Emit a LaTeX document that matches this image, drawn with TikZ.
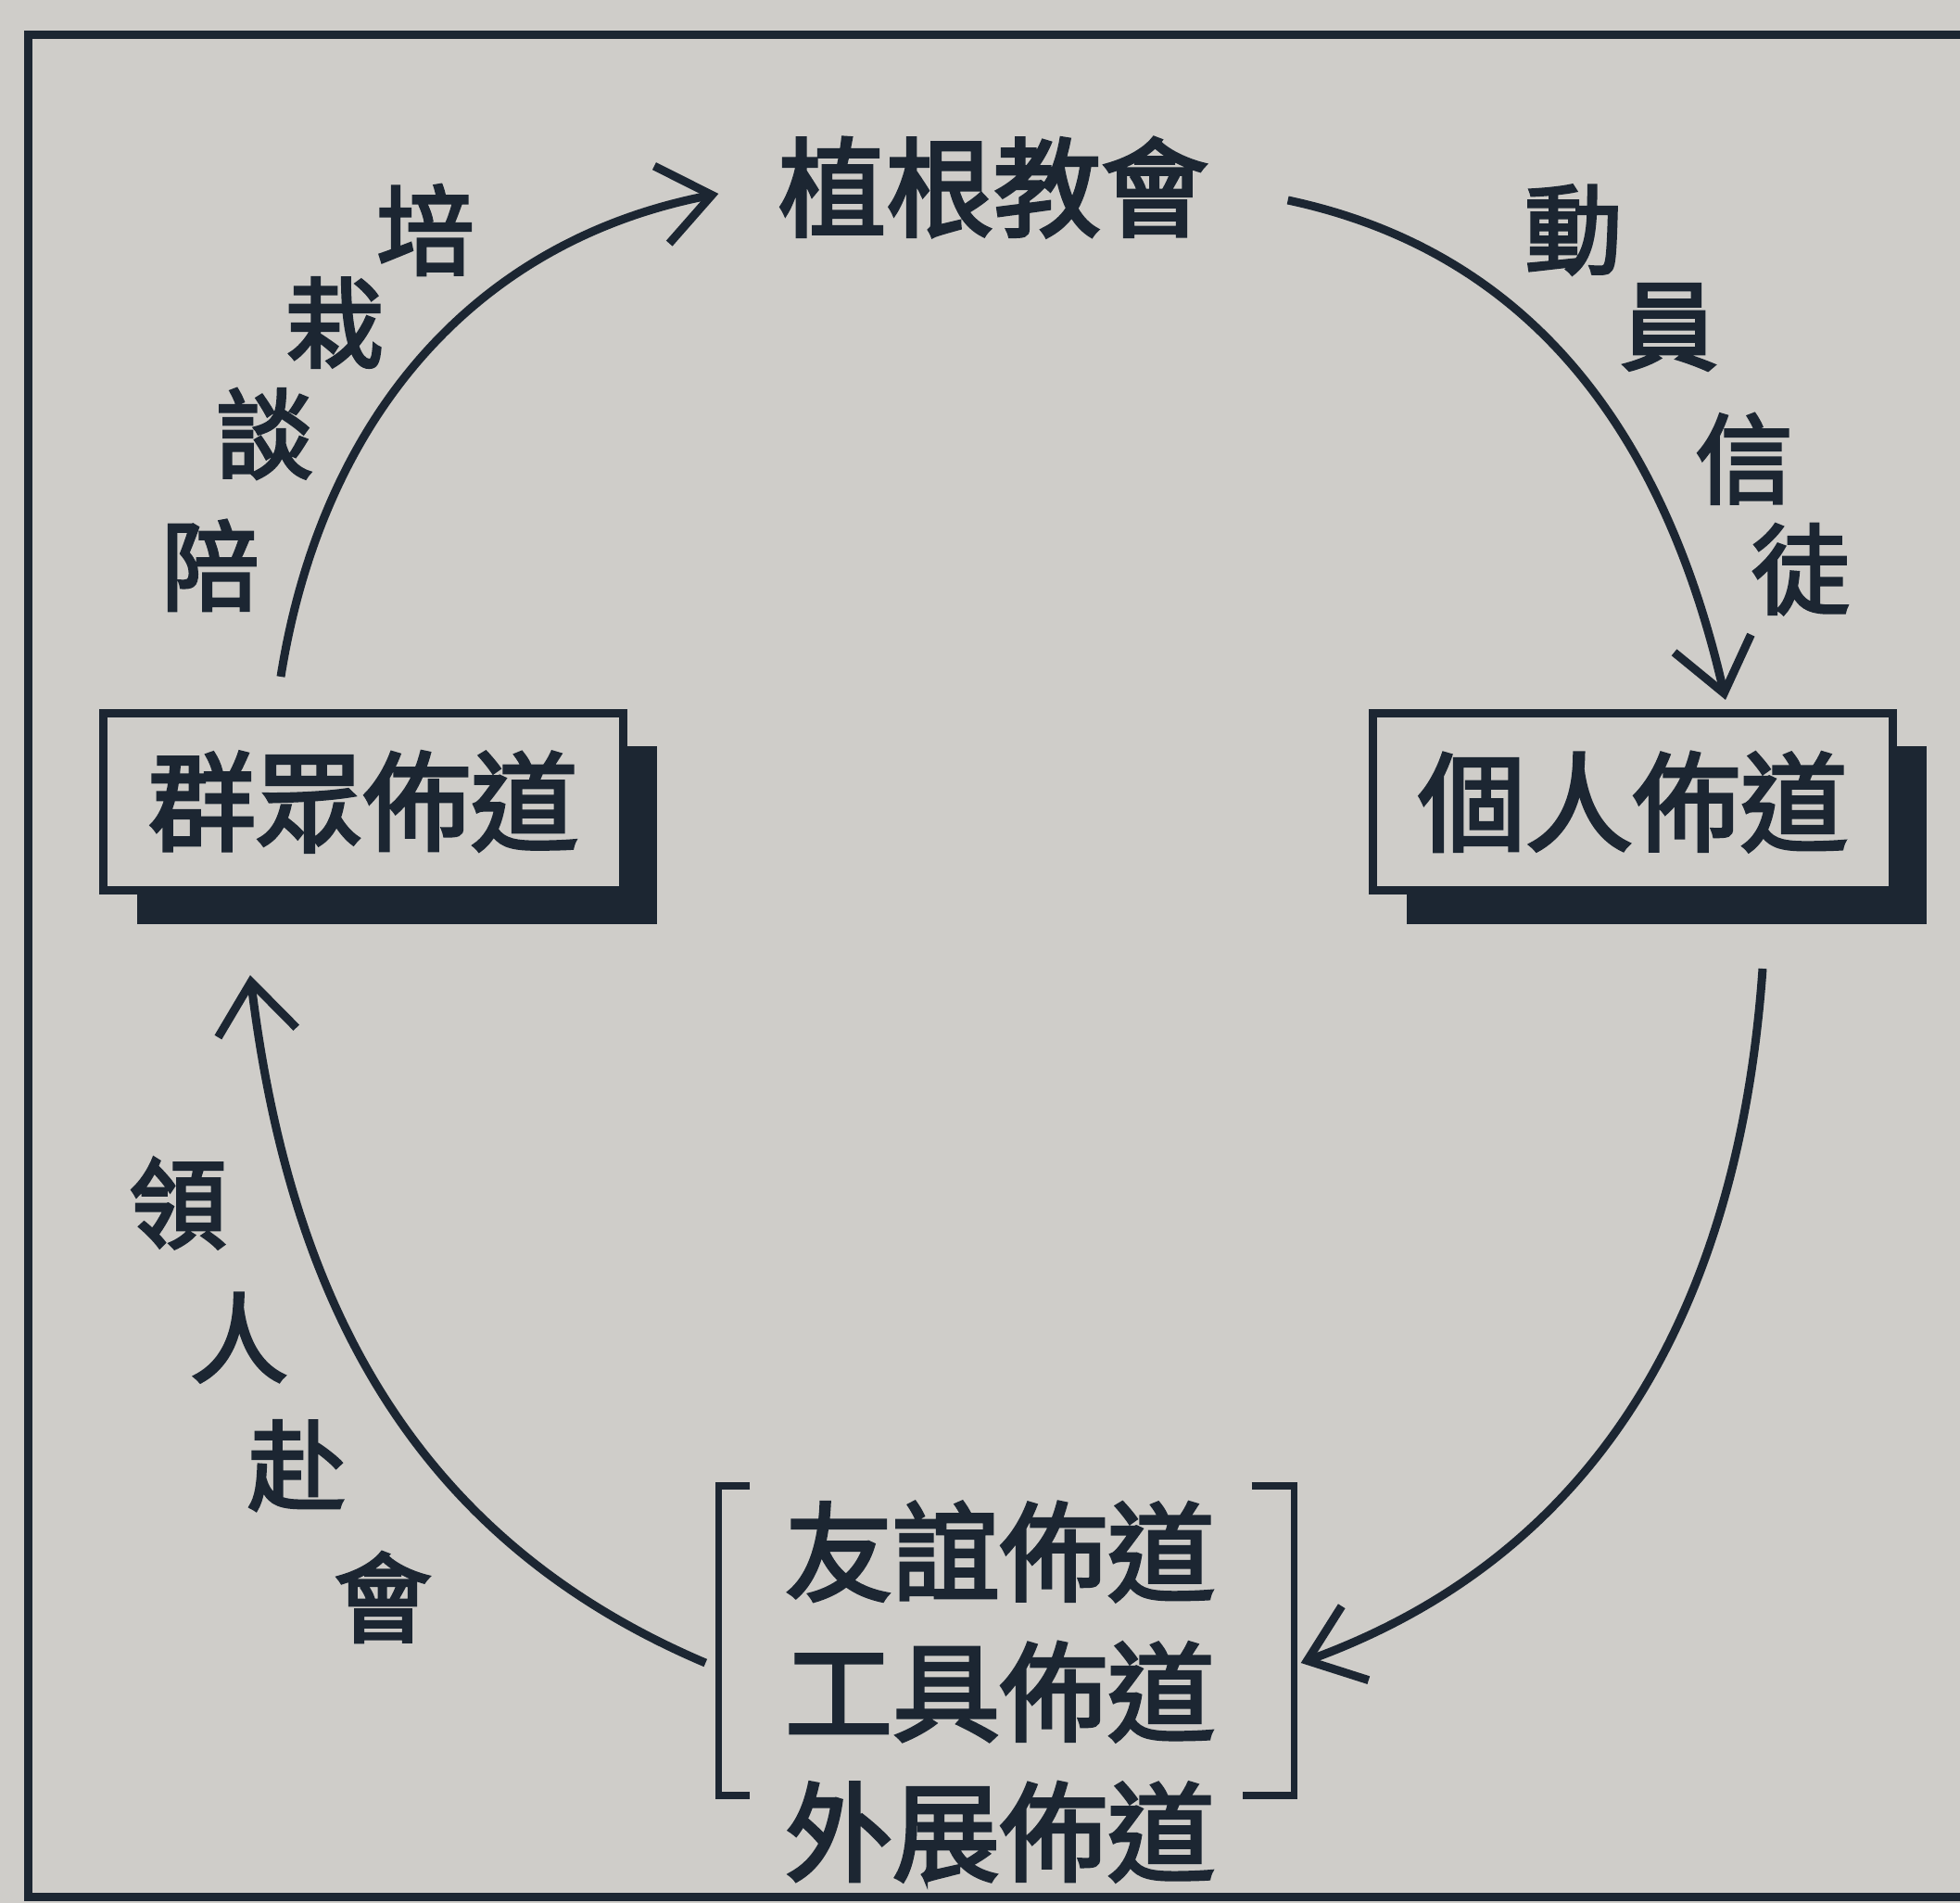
\documentclass[tikz,border=0pt]{standalone}
\usepackage{fontspec}
\newfontfamily\cjk{Noto Sans CJK TC}[FakeBold=3]
\usetikzlibrary{arrows.meta,shadows,positioning}
\definecolor{paper}{RGB}{207,205,201}
\definecolor{ink}{RGB}{28,38,50}

\begin{document}
\begin{tikzpicture}[>={Straight Barb[length=5.5mm,width=8.5mm]},inner sep=0pt,color=ink,
  lbl/.style={font=\cjk\fontsize{33}{43}\selectfont},
  side/.style={font=\cjk\fontsize{30}{36}\selectfont},
  box/.style={lbl,draw=ink,fill=paper,line width=0.9mm,minimum width=5.61cm,minimum height=1.91cm,
    drop shadow={shadow xshift=3.6mm,shadow yshift=-3.6mm,fill=ink,opacity=1}},
  flow/.style={->,line width=0.9mm}]
\useasboundingbox (0,0) rectangle (21.15,-20.53);
\clip (0,0) rectangle (21.15,-20.53);
\fill[paper] (0,0) rectangle (21.15,-20.53);
\draw[line width=0.9mm] (0.30,-0.38) rectangle (21.6,-20.46);
% the four stages
\node[lbl] (church) at (10.72,-2.02) {植根教會};
\node[box] (mass) at (3.92,-8.65) {群眾佈道};
\node[box] (personal) at (17.62,-8.65) {個人佈道};
\node[minimum width=6.2cm,minimum height=3.33cm] (group) at (10.86,-17.70) {};
\node[lbl,align=center] (ways) at (10.79,-18.25) {友誼佈道\\工具佈道\\外展佈道};
\draw[line width=0.75mm] ([xshift=3.4mm]group.north west) -- (group.north west) -- (group.south west) -- ([xshift=3.4mm]group.south west);
\draw[line width=0.75mm] ([xshift=-4.6mm]group.north east) -- (group.north east) -- (group.south east) -- ([xshift=-5.6mm]group.south east);
% the cycle
\draw[flow] ([xshift=-8.9mm,yshift=3.5mm]mass.north) to[out=81,in=191] ([xshift=-6.4mm,yshift=-0.7mm]church.west);
\draw[flow] ([xshift=8.5mm,yshift=-1.4mm]church.east) to[out=-12,in=103] ([xshift=10mm,yshift=1mm]personal.north);
\draw[flow] ([xshift=14mm,yshift=-8mm]personal.south) to[out=-94,in=20] ([xshift=0.7mm,yshift=-2.4mm]group.east);
\draw[flow] ([xshift=-1.4mm,yshift=-2.4mm]group.west) to[out=157,in=-83] ([xshift=-12.2mm,yshift=-8.7mm]mass.south);
% labels along the arcs
\foreach \ch/\x/\y [count=\i] in {培/4.59/-2.48,栽/3.61/-3.48,談/2.86/-4.68,陪/2.27/-6.10}
  \node[side] (grow\i) at (\x,\y) {\ch};
\foreach \ch/\x/\y [count=\i] in {動/16.98/-2.48,員/18.01/-3.53,信/18.82/-4.95,徒/19.43/-6.14}
  \node[side] (mob\i) at (\x,\y) {\ch};
\foreach \ch/\x/\y [count=\i] in {領/1.92/-12.98,人/2.58/-14.43,赴/3.20/-15.81,會/4.13/-17.23}
  \node[side] (lead\i) at (\x,\y) {\ch};
\end{tikzpicture}
\end{document}
